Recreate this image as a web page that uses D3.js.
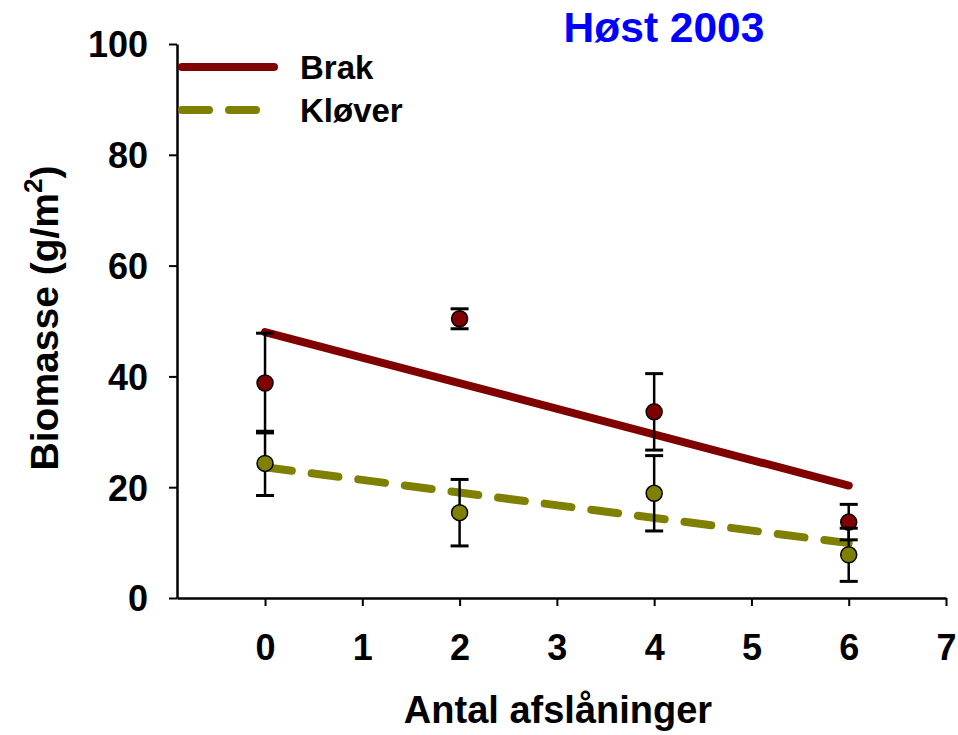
<!DOCTYPE html>
<html>
<head>
<meta charset="utf-8">
<script src="https://cdn.jsdelivr.net/npm/d3@7"></script>
<style>
  html, body { margin: 0; padding: 0; background: #fff; }
  svg { display: block; }
  text { font-family: "Liberation Sans", Arial, Helvetica, sans-serif; font-weight: bold; }
</style>
</head>
<body>
<svg id="chart" width="958" height="735"></svg>
<script>
// ---- data ----
const xValues = [0, 2, 4, 6];
const brakMean = [38.8, 50.4, 33.6, 13.7];
const brakErr = [9.0, 1.8, 6.9, 3.2];
const kloverMean = [24.3, 15.4, 18.9, 7.8];
const kloverErr = [5.8, 6.0, 6.8, 4.8];
const fitX = [0, 6];
const brakFit = [48.0, 20.3];
const kloverFit = [23.6, 9.9];
const xTicks = [0, 1, 2, 3, 4, 5, 6, 7];
const yTicks = [0, 20, 40, 60, 80, 100];
const seriesNames = ["Brak", "Kløver"];
const titleText = "Høst 2003";
const xTitle = "Antal afslåninger";

const colBrak = "#800000";
const colKlover = "#808000";

const svg = d3.select("#chart");
const x = d3.scaleLinear().domain([-0.905, 7]).range([177, 946]);
const y = d3.scaleLinear().domain([0, 100]).range([598, 44]);

// axes
const xAxis = svg.append("g").attr("transform", `translate(0,${y(0)})`)
  .call(d3.axisBottom(x).tickValues(xTicks).tickFormat(d3.format("d")).tickSize(8).tickSizeOuter(0));
xAxis.select(".domain").attr("stroke", "#000").attr("stroke-width", 2.5);
xAxis.selectAll(".tick line").attr("stroke", "#000").attr("stroke-width", 2);
xAxis.selectAll(".tick text").attr("y", 62).attr("dy", 0)
  .attr("font-size", 36).attr("fill", "#000")
  .style("font-family", '"Liberation Sans", Arial, sans-serif').style("font-weight", "bold");

const yAxis = svg.append("g").attr("transform", `translate(${x.range()[0]},0)`)
  .call(d3.axisLeft(y).tickValues(yTicks).tickSize(8).tickPadding(21).tickSizeOuter(0));
yAxis.select(".domain").attr("stroke", "#000").attr("stroke-width", 2.5);
yAxis.selectAll(".tick line").attr("stroke", "#000").attr("stroke-width", 2);
yAxis.selectAll(".tick text").attr("dy", "0.36em")
  .attr("font-size", 36).attr("fill", "#000")
  .style("font-family", '"Liberation Sans", Arial, sans-serif').style("font-weight", "bold");

// regression lines
const line = d3.line().x(d => x(d[0])).y(d => y(d[1]));
svg.append("path").datum(fitX.map((v, i) => [v, brakFit[i]]))
  .attr("d", line).attr("fill", "none").attr("stroke", colBrak)
  .attr("stroke-width", 8).attr("stroke-linecap", "round");
svg.append("path").datum(fitX.map((v, i) => [v, kloverFit[i]]))
  .attr("d", line).attr("fill", "none").attr("stroke", colKlover)
  .attr("stroke-width", 8).attr("stroke-linecap", "round")
  .attr("stroke-dasharray", "27,20");

// points with error bars
function drawSeries(means, errs, color) {
  const g = svg.append("g");
  const data = xValues.map((v, i) => ({ x: v, m: means[i], e: errs[i] }));
  g.selectAll("line.v").data(data).join("line")
    .attr("x1", d => x(d.x)).attr("x2", d => x(d.x))
    .attr("y1", d => y(d.m - d.e)).attr("y2", d => y(d.m + d.e))
    .attr("stroke", "#000").attr("stroke-width", 2.5);
  [1, -1].forEach(s => {
    g.selectAll("line.c" + (s > 0 ? "t" : "b")).data(data).join("line")
      .attr("x1", d => x(d.x) - 9).attr("x2", d => x(d.x) + 9)
      .attr("y1", d => y(d.m + s * d.e)).attr("y2", d => y(d.m + s * d.e))
      .attr("stroke", "#000").attr("stroke-width", 3);
  });
  g.selectAll("circle").data(data).join("circle")
    .attr("cx", d => x(d.x)).attr("cy", d => y(d.m)).attr("r", 8)
    .attr("fill", color).attr("stroke", "#000").attr("stroke-width", 1.5);
}
drawSeries(brakMean, brakErr, colBrak);
drawSeries(kloverMean, kloverErr, colKlover);

// legend
svg.append("line").attr("x1", 182).attr("x2", 274).attr("y1", 67).attr("y2", 67)
  .attr("stroke", colBrak).attr("stroke-width", 8).attr("stroke-linecap", "round");
svg.append("line").attr("x1", 182).attr("x2", 262).attr("y1", 110).attr("y2", 110)
  .attr("stroke", colKlover).attr("stroke-width", 8).attr("stroke-linecap", "round")
  .attr("stroke-dasharray", "27,20");
svg.append("text").attr("x", 300).attr("y", 79).attr("font-size", 33).text(seriesNames[0]);
svg.append("text").attr("x", 300).attr("y", 122).attr("font-size", 33).text(seriesNames[1]);

// title
svg.append("text").attr("x", 664).attr("y", 42).attr("text-anchor", "middle")
  .attr("font-size", 42.5).attr("fill", "#0000FF").text(titleText);

// x title
svg.append("text").attr("x", 558).attr("y", 723).attr("text-anchor", "middle")
  .attr("font-size", 38).attr("fill", "#000").text(xTitle);

// y title
const yt = svg.append("text").attr("transform", "translate(58,318) rotate(-90)")
  .attr("text-anchor", "middle").attr("font-size", 39).attr("fill", "#000");
yt.append("tspan").text("Biomasse (g/m");
yt.append("tspan").attr("font-size", 26).attr("dy", -16).text("2");
yt.append("tspan").attr("dy", 16).text(")");
</script>
</body>
</html>
